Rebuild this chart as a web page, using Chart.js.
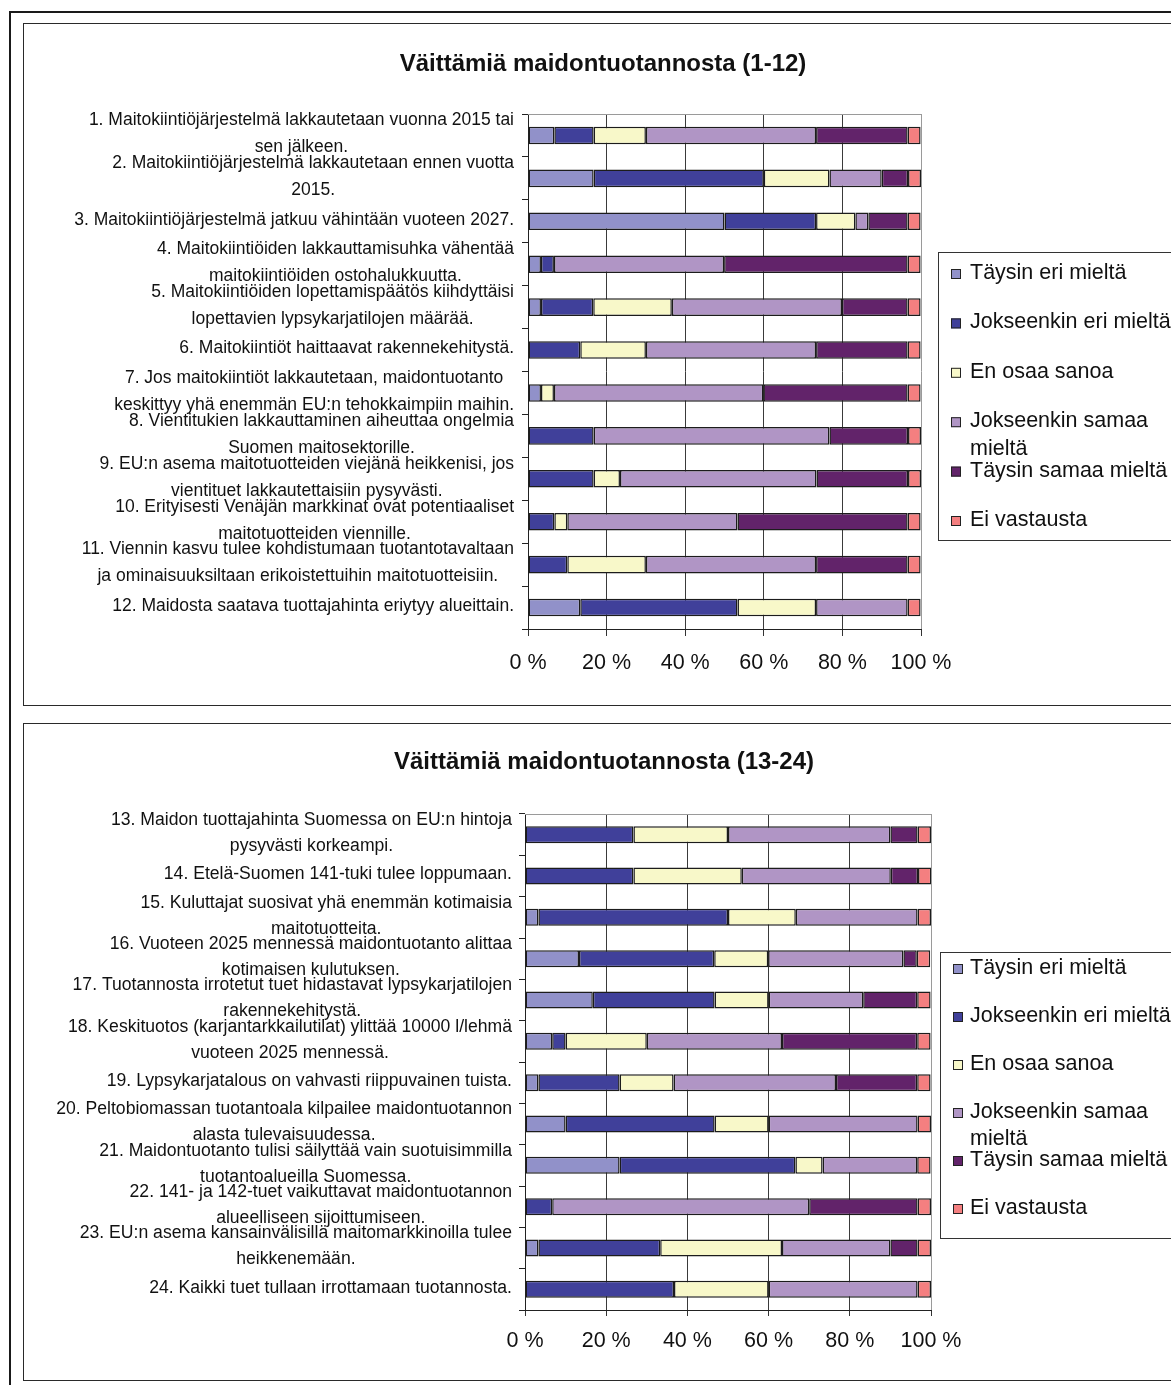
<!DOCTYPE html>
<html lang="fi">
<head>
<meta charset="utf-8">
<title>Väittämiä maidontuotannosta</title>
<script src="https://cdn.jsdelivr.net/npm/chart.js@4.4.1/dist/chart.umd.min.js"></script>
<style>
  html, body { margin: 0; padding: 0; background: #fff; }
  body { width: 1171px; height: 1385px; overflow: hidden; position: relative; }
  .frame { position: absolute; left: 9px; top: 11px; width: 2000px; height: 2000px;
           border-left: 2px solid #1a1a1a; border-top: 2px solid #1a1a1a; }
  .box { position: absolute; left: 23px; width: 1200px; box-sizing: border-box;
         border: 1px solid #2a2a2a; background: #fff; }
  #box1 { top: 23px; height: 683px; }
  #box2 { top: 723px; height: 658px; }
  .box canvas { position: absolute; left: 0; top: 0; }
</style>
</head>
<body>
<div class="frame"></div>
<div class="box" id="box1"><canvas id="c1" width="1147" height="680"></canvas></div>
<div class="box" id="box2"><canvas id="c2" width="1147" height="656"></canvas></div>
<script>
// Series names (answer options) and their legend wrapping
const seriesNames = ['Täysin eri mieltä', 'Jokseenkin eri mieltä', 'En osaa sanoa',
  'Jokseenkin samaa mieltä', 'Täysin samaa mieltä', 'Ei vastausta'];
const legendLines = [['Täysin eri mieltä'], ['Jokseenkin eri mieltä'], ['En osaa sanoa'],
  ['Jokseenkin samaa', 'mieltä'], ['Täysin samaa mieltä'], ['Ei vastausta']];
const seriesColors = ['#9191c9', '#40409a', '#f8f8c9', '#b095c5', '#62236a', '#f47f80'];

// Statements 1-12
const claims1 = [
  ['1. Maitokiintiöjärjestelmä lakkautetaan vuonna 2015 tai', 'sen jälkeen.'],
  ['2. Maitokiintiöjärjestelmä lakkautetaan ennen vuotta', '2015.'],
  ['3. Maitokiintiöjärjestelmä jatkuu vähintään vuoteen 2027.'],
  ['4. Maitokiintiöiden lakkauttamisuhka vähentää', 'maitokiintiöiden ostohalukkuutta.'],
  ['5. Maitokiintiöiden lopettamispäätös kiihdyttäisi', 'lopettavien lypsykarjatilojen määrää.'],
  ['6. Maitokiintiöt haittaavat rakennekehitystä.'],
  ['7. Jos maitokiintiöt lakkautetaan, maidontuotanto', 'keskittyy yhä enemmän EU:n tehokkaimpiin maihin.'],
  ['8. Vientitukien lakkauttaminen aiheuttaa ongelmia', 'Suomen maitosektorille.'],
  ['9. EU:n asema maitotuotteiden viejänä heikkenisi, jos', 'vientituet lakkautettaisiin pysyvästi.'],
  ['10. Erityisesti Venäjän markkinat ovat potentiaaliset', 'maitotuotteiden viennille.'],
  ['11. Viennin kasvu tulee kohdistumaan tuotantotavaltaan', 'ja ominaisuuksiltaan erikoistettuihin maitotuotteisiin.'],
  ['12. Maidosta saatava tuottajahinta eriytyy alueittain.']
];
// Shares of answers (%), statements 1-12
const taysinEri1     = [6.7, 16.7, 50, 3.3, 3.3, 0, 3.3, 0, 0, 0, 0, 13.3];
const jokseenkinEri1 = [10, 43.3, 23.3, 3.3, 13.3, 13.3, 0, 16.7, 16.7, 6.7, 10, 40];
const enOsaa1        = [13.3, 16.7, 10, 0, 20, 16.7, 3.3, 0, 6.7, 3.3, 20, 20];
const jokseenkinSam1 = [43.3, 13.3, 3.3, 43.3, 43.3, 43.3, 53.3, 60, 50, 43.3, 43.3, 23.3];
const taysinSam1     = [23.3, 6.7, 10, 46.7, 16.7, 23.3, 36.7, 20, 23.3, 43.3, 23.3, 0];
const eiVastausta1   = [3.3, 3.3, 3.3, 3.3, 3.3, 3.3, 3.3, 3.3, 3.3, 3.3, 3.3, 3.3];

// Statements 13-24
const claims2 = [
  ['13. Maidon tuottajahinta Suomessa on EU:n hintoja', 'pysyvästi korkeampi.'],
  ['14. Etelä-Suomen 141-tuki tulee loppumaan.'],
  ['15. Kuluttajat suosivat yhä enemmän kotimaisia', 'maitotuotteita.'],
  ['16. Vuoteen 2025 mennessä maidontuotanto alittaa', 'kotimaisen kulutuksen.'],
  ['17. Tuotannosta irrotetut tuet hidastavat lypsykarjatilojen', 'rakennekehitystä.'],
  ['18. Keskituotos (karjantarkkailutilat) ylittää 10000 l/lehmä', 'vuoteen 2025 mennessä.'],
  ['19. Lypsykarjatalous on vahvasti riippuvainen tuista.'],
  ['20. Peltobiomassan tuotantoala kilpailee maidontuotannon', 'alasta tulevaisuudessa.'],
  ['21. Maidontuotanto tulisi säilyttää vain suotuisimmilla', 'tuotantoalueilla Suomessa.'],
  ['22. 141- ja 142-tuet vaikuttavat maidontuotannon', 'alueelliseen sijoittumiseen.'],
  ['23. EU:n asema kansainvälisillä maitomarkkinoilla tulee', 'heikkenemään.'],
  ['24. Kaikki tuet tullaan irrottamaan tuotannosta.']
];
// Shares of answers (%), statements 13-24
const taysinEri2     = [0, 0, 3.3, 13.3, 16.7, 6.7, 3.3, 10, 23.3, 0, 3.3, 0];
const jokseenkinEri2 = [26.7, 26.7, 46.7, 33.3, 30, 3.3, 20, 36.7, 43.3, 6.7, 30, 36.7];
const enOsaa2        = [23.3, 26.7, 16.7, 13.3, 13.3, 20, 13.3, 13.3, 6.7, 0, 30, 23.3];
const jokseenkinSam2 = [40, 36.7, 30, 33.3, 23.3, 33.3, 40, 36.7, 23.3, 63.3, 26.7, 36.7];
const taysinSam2     = [6.7, 6.7, 0, 3.3, 13.3, 33.3, 20, 0, 0, 26.7, 6.7, 0];
const eiVastausta2   = [3.3, 3.3, 3.3, 3.3, 3.3, 3.3, 3.3, 3.3, 3.3, 3.3, 3.3, 3.3];

const xTicks = [0, 20, 40, 60, 80, 100];

const FONT = '"Liberation Sans", Arial, Helvetica, sans-serif';

// Draws the title, the wrapped statement labels, the plot top border and the legend box
const extrasPlugin = {
  id: 'extras',
  afterDraw(chart, args, o) {
    const ctx = chart.ctx;
    const area = chart.chartArea;
    const yScale = chart.scales.y;
    ctx.save();

    // light top border of the plot area
    ctx.strokeStyle = '#9a9a9a';
    ctx.lineWidth = 1;
    ctx.beginPath();
    ctx.moveTo(area.left, Math.round(area.top) + 0.5);
    ctx.lineTo(area.right, Math.round(area.top) + 0.5);
    ctx.stroke();

    // title
    ctx.fillStyle = '#111';
    ctx.textAlign = 'center';
    ctx.textBaseline = 'middle';
    ctx.font = 'bold ' + o.titleSize + 'px ' + FONT;
    ctx.fillText(o.title, o.titleX, o.titleY);

    // statement labels: each block centred on itself, right edge on a common line
    ctx.font = o.labelSize + 'px ' + FONT;
    chart.data.labels.forEach((lines, i) => {
      const cy = yScale.getPixelForValue(i) + o.labelShift;
      const w = Math.max(...lines.map(l => ctx.measureText(l).width));
      const cx = o.labelRight - w / 2;
      const top = cy - (lines.length - 1) * o.lineGap / 2;
      lines.forEach((l, k) => ctx.fillText(l, cx, top + k * o.lineGap));
    });

    // legend
    const L = o.legend;
    ctx.strokeStyle = '#333';
    ctx.lineWidth = 1;
    ctx.strokeRect(L.x + 0.5, L.y + 0.5, L.w, L.h);
    ctx.font = L.size + 'px ' + FONT;
    ctx.textAlign = 'left';
    chart.data.datasets.forEach((ds, i) => {
      const cy = L.first + i * L.gap;
      ctx.fillStyle = ds.backgroundColor;
      ctx.fillRect(L.sq, cy - 4, 10, 10);
      ctx.strokeStyle = '#222';
      ctx.strokeRect(L.sq + 0.5, cy - 3.5, 9, 9);
      ctx.fillStyle = '#111';
      legendLines[i].forEach((t, k) => ctx.fillText(t, L.text, cy + k * L.wrap));
    });
    ctx.restore();
  }
};

function buildDatasets(seriesValues) {
  return seriesValues.map((vals, i) => ({
    label: seriesNames[i],
    data: vals,
    backgroundColor: seriesColors[i],
    borderColor: '#1c1c1c',
    borderWidth: 1.5,
    borderSkipped: false,
    inflateAmount: 0,
    barPercentage: 0.41,
    categoryPercentage: 1
  }));
}

function makeChart(id, labels, seriesValues, cfg) {
  return new Chart(document.getElementById(id), {
    type: 'bar',
    data: { labels: labels, datasets: buildDatasets(seriesValues) },
    plugins: [extrasPlugin],
    options: {
      indexAxis: 'y',
      responsive: false,
      animation: false,
      events: [],
      layout: { padding: { top: cfg.plotTop, right: cfg.padRight, left: 0, bottom: 0 } },
      plugins: {
        legend: { display: false },
        title: { display: false },
        tooltip: { enabled: false },
        extras: cfg.extras
      },
      scales: {
        x: {
          stacked: true,
          min: 0,
          max: 100,
          afterBuildTicks: s => { s.ticks = xTicks.map(v => ({ value: v })); },
          afterFit: s => { s.height = cfg.xHeight; },
          ticks: {
            callback: v => v + ' %',
            color: '#111',
            font: { family: FONT, size: 21.5 },
            padding: cfg.tickPad,
            maxRotation: 0,
            autoSkip: false
          },
          grid: {
            color: c => (c.tick && c.tick.value === 100) ? '#9a9a9a' : '#3a3a3a',
            tickColor: '#333',
            tickLength: cfg.xTickLen,
            lineWidth: 1
          },
          border: { color: '#222', width: 1 }
        },
        y: {
          stacked: true,
          afterFit: s => { s.width = cfg.yWidth; },
          ticks: { display: false },
          grid: {
            offset: true,
            drawOnChartArea: false,
            color: '#222',
            tickLength: 6
          },
          border: { color: '#222', width: 1 }
        }
      }
    }
  });
}

makeChart('c1', claims1,
  [taysinEri1, jokseenkinEri1, enOsaa1, jokseenkinSam1, taysinSam1, eiVastausta1],
  {
    plotTop: 90, padRight: 250, yWidth: 504, xHeight: 75, tickPad: 14, xTickLen: 7,
    extras: {
      title: 'Väittämiä maidontuotannosta (1-12)', titleSize: 24, titleX: 579, titleY: 40,
      labelSize: 17.5, labelRight: 490, lineGap: 27, labelShift: -1.5,
      legend: { x: 914, y: 228, w: 300, h: 288, sq: 927, text: 946, first: 249, gap: 49.4, wrap: 28, size: 21.5 }
    }
  });

makeChart('c2', claims2,
  [taysinEri2, jokseenkinEri2, enOsaa2, jokseenkinSam2, taysinSam2, eiVastausta2],
  {
    plotTop: 90, padRight: 240, yWidth: 501, xHeight: 70, tickPad: 12, xTickLen: 6,
    extras: {
      title: 'Väittämiä maidontuotannosta (13-24)', titleSize: 24, titleX: 580, titleY: 38,
      labelSize: 17.6, labelRight: 488, lineGap: 26, labelShift: -1.5,
      legend: { x: 916, y: 228, w: 300, h: 286, sq: 929, text: 946, first: 244, gap: 48, wrap: 27, size: 21.5 }
    }
  });
</script>
</body>
</html>
